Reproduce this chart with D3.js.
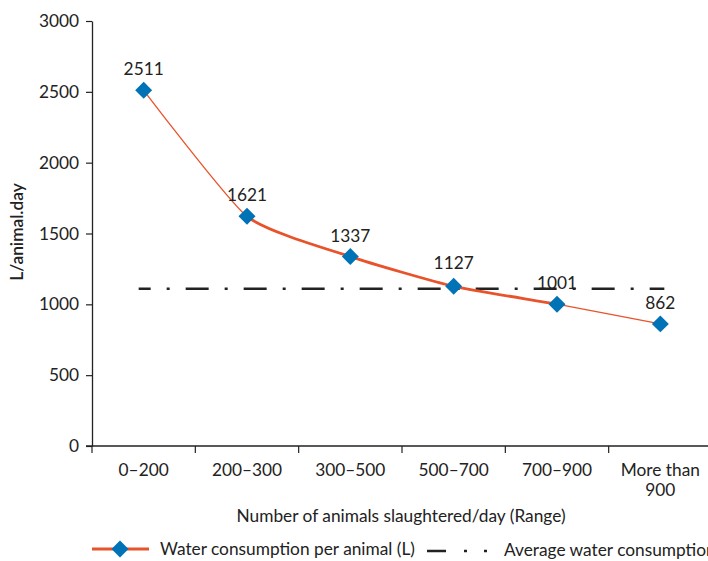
<!DOCTYPE html>
<html><head><meta charset="utf-8">
<script src="https://cdn.jsdelivr.net/npm/d3@7/dist/d3.min.js"></script>
<style>body{margin:0;background:#fff;} text{font-family:Lato,"Open Sans",sans-serif;fill:#222;}</style>
</head><body><svg id="c" width="708" height="561"></svg>
<script>
const categories = ["0–200","200–300","300–500","500–700","700–900","More than|900"];
const waterPerAnimal = [2511,1621,1337,1127,1001,862];
const averageValue = 1110;
const yTicks = [0,500,1000,1500,2000,2500,3000];
const seriesNames = ["Water consumption per animal (L)","Average water consumption"];

const FS = "17.3px";
const svg = d3.select("#c");
const x = d3.scaleBand().domain(categories).range([92,712]);
const y = d3.scaleLinear().domain([0,3000]).range([446,21]);
const cx = c => x(c) + x.bandwidth()/2;
const orange = "#E8532B", blue = "#0072B6";

// y axis
const yAxis = svg.append("g").attr("transform","translate(92,0)")
  .call(d3.axisLeft(y).tickValues(yTicks).tickFormat(d3.format("d")).tickSize(6).tickPadding(7).tickSizeOuter(0));
yAxis.select(".domain").attr("stroke","#222").attr("stroke-width",1.3);
yAxis.selectAll(".tick line").attr("stroke","#222").attr("stroke-width",1.2);
yAxis.selectAll(".tick text").style("font-size",FS).attr("fill","#222");

// x axis
const xAxis = svg.append("g").attr("transform","translate(0,446)")
  .call(d3.axisBottom(x).tickSize(0).tickFormat(""));
xAxis.select(".domain").attr("d","M86,0H712").attr("stroke","#222").attr("stroke-width",1.3);
const tickPos = categories.map(c => x(c));
svg.append("g").selectAll("line").data(tickPos).join("line")
  .attr("x1",d=>d).attr("x2",d=>d).attr("y1",446).attr("y2",453)
  .attr("stroke","#222").attr("stroke-width",1.2);
const xl = svg.append("g").selectAll("text").data(categories).join("text")
  .attr("x",d=>cx(d)).attr("y",476).attr("text-anchor","middle").style("font-size",FS);
xl.each(function(d){
  const parts = d.split("|");
  const t = d3.select(this);
  parts.forEach((p,i)=>t.append("tspan").attr("x",cx(d)).attr("dy",i?20:0).text(p));
});

// axis titles
svg.append("text").attr("x",401).attr("y",522).attr("text-anchor","middle")
  .style("font-size",FS).text("Number of animals slaughtered/day (Range)");
svg.append("text").attr("transform","translate(23,232) rotate(-90)").attr("text-anchor","middle")
  .style("font-size",FS).style("font-weight","600").text("L/animal.day");

// average line
svg.append("line").attr("x1",cx(categories[0])-5).attr("x2",cx(categories[5])+4)
  .attr("y1",y(averageValue)).attr("y2",y(averageValue))
  .attr("stroke","#222").attr("stroke-width",2.6).attr("stroke-dasharray","23,16,3,16")
  .attr("stroke-dashoffset",11);

// series line
const pts = categories.map((c,i)=>[cx(c), y(waterPerAnimal[i])]);
const lineGen = d3.line().curve(d3.curveCardinal.tension(0.45));
svg.append("path").attr("d",lineGen(pts)).attr("fill","none").attr("stroke",orange).attr("stroke-width",1.3);
svg.append("clipPath").attr("id","thick").append("rect")
  .attr("x",cx(categories[1])).attr("y",0).attr("width",cx(categories[4])-cx(categories[1])).attr("height",561);
svg.append("path").attr("d",lineGen(pts)).attr("fill","none").attr("stroke",orange)
  .attr("stroke-width",2.8).attr("clip-path","url(#thick)");

// markers
svg.append("g").selectAll("rect").data(pts).join("rect")
  .attr("x",-6).attr("y",-6).attr("width",12).attr("height",12)
  .attr("transform",d=>`translate(${d[0]},${d[1]}) rotate(45)`).attr("fill",blue);

// value labels
svg.append("g").selectAll("text").data(pts).join("text")
  .attr("x",d=>d[0]).attr("y",(d,i)=>d[1]-(i===3?17:15)).attr("text-anchor","middle")
  .style("font-size",FS).text((d,i)=>waterPerAnimal[i]);

// legend
const ly = 549;
svg.append("line").attr("x1",92).attr("x2",149).attr("y1",ly).attr("y2",ly).attr("stroke",orange).attr("stroke-width",2.8);
svg.append("rect").attr("x",-6).attr("y",-6).attr("width",12).attr("height",12)
  .attr("transform",`translate(120,${ly}) rotate(45)`).attr("fill",blue);
svg.append("text").attr("x",160).attr("y",ly+6).style("font-size",FS).text(seriesNames[0]);
svg.append("line").attr("x1",427).attr("x2",490).attr("y1",ly+2).attr("y2",ly+2)
  .attr("stroke","#222").attr("stroke-width",2.6).attr("stroke-dasharray","19,18,3,17,3,100");
svg.append("text").attr("x",504).attr("y",ly+7).style("font-size",FS).text(seriesNames[1]);
</script></body></html>
